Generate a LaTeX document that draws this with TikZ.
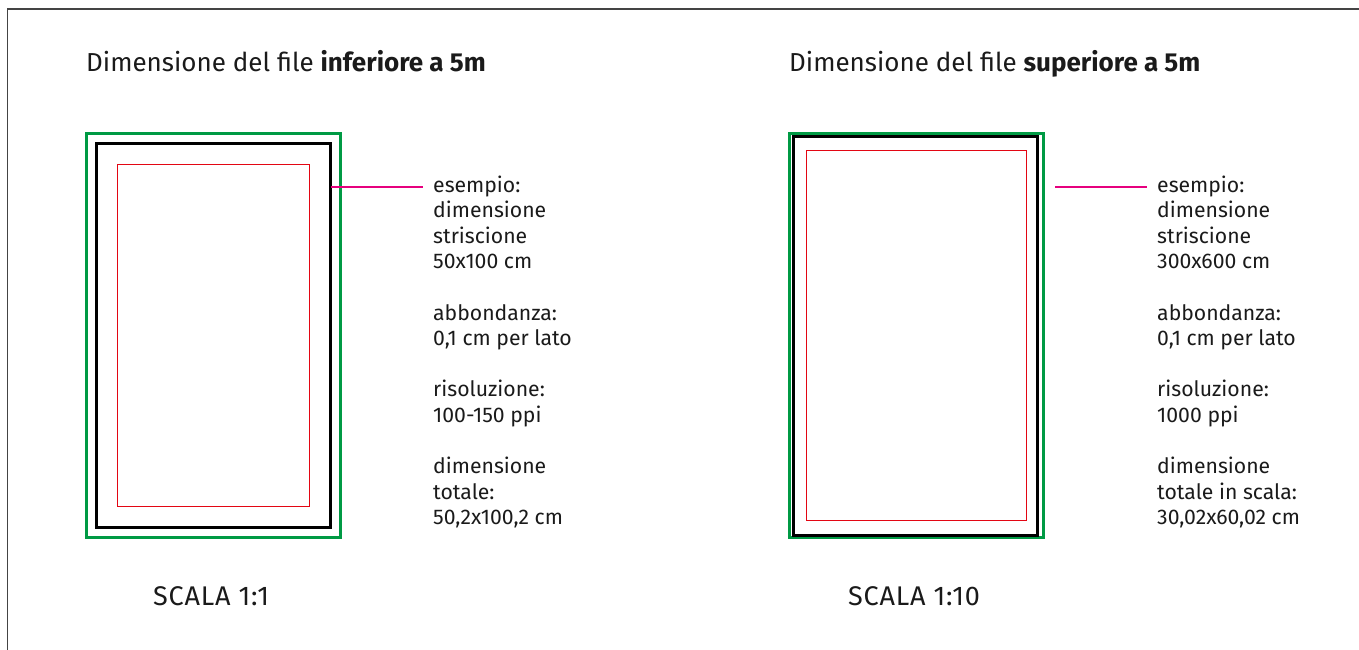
\documentclass[tikz,border=0pt]{standalone}
\usepackage{fontspec}
\setmainfont{Fira Sans}
\definecolor{txt}{HTML}{1A1A1A}
\definecolor{grn}{HTML}{009A44}
\definecolor{rd}{HTML}{E30613}
\definecolor{mag}{HTML}{E6007E}
\definecolor{frm}{HTML}{444444}
\tikzset{
  box/.style={draw, inner sep=0pt, outer sep=0pt},
  greenbox/.style={box, grn, line width=3pt},
  blackbox/.style={box, black, line width=3pt},
  redbox/.style={box, rd, line width=0.9pt},
  lead/.style={mag, line width=2.2pt},
  title/.style={anchor=base west, inner sep=0pt, text=txt, font=\fontsize{26}{30}\selectfont},
  scalelabel/.style={anchor=base west, inner sep=0pt, text=txt, font=\fontsize{27}{30}\selectfont\addfontfeature{LetterSpace=3}},
  info/.style={anchor=base west, inner sep=0pt, text=txt, font=\fontsize{21.2}{25}\selectfont},
}
\begin{document}
\begin{tikzpicture}[x=1pt,y=-1pt]
\useasboundingbox (0,0) rectangle (1359,650);
\draw[frm, line width=1.5pt] (7.5,700) -- (7.5,9) -- (1400,9);
% titles
\node[title] (t1) at (86,72) {Dimensione del file \textbf{inferiore a 5m}};
\node[title] (t2) at (789,72) {Dimensione del file \textbf{superiore a 5m}};
% left diagram
\node[greenbox, minimum width=254pt, minimum height=404pt] (g1) at (213.5,335.5) {};
\node[blackbox, minimum width=234.5pt, minimum height=384pt] (b1) at (213.3,335.5) {};
\node[redbox, minimum width=192pt, minimum height=342pt] (r1) at (213.5,335.5) {};
% right diagram
\node[greenbox, minimum width=254pt, minimum height=404pt] (g2) at (916.5,335.5) {};
\node[blackbox, minimum width=244.5pt, minimum height=398.7pt] (b2) at (915.7,335.8) {};
\node[redbox, minimum width=220.5pt, minimum height=369.7pt] (r2) at (916.2,335.4) {};
% info texts
\foreach \s/\y [count=\i] in {esempio:/0, dimensione/1, striscione/2, 50x100 cm/3, abbondanza:/5, {0,1 cm per lato}/6, risoluzione:/8, 100-150 ppi/9, dimensione/11, totale:/12, {50,2x100,2 cm}/13}
  \node[info] (a\i) at (433,192+25.6*\y) {\s};
\foreach \s/\y [count=\i] in {esempio:/0, dimensione/1, striscione/2, 300x600 cm/3, abbondanza:/5, {0,1 cm per lato}/6, risoluzione:/8, 1000 ppi/9, dimensione/11, totale in scala:/12, {30,02x60,02 cm}/13}
  \node[info] (c\i) at (1157,192+25.6*\y) {\s};
% leaders
\coordinate (e1) at (423,186.7);
\coordinate (e2) at (1147,186.7);
\coordinate (s2) at (1055,186.7);
\draw[lead] (b1.east |- e1) -- (e1);
\draw[lead] (s2) -- (e2);
% scale labels
\node[scalelabel] (s1l) at (153,605) {SCALA 1:1};
\node[scalelabel] (s2l) at (848,605) {SCALA 1:10};
\end{tikzpicture}
\end{document}
